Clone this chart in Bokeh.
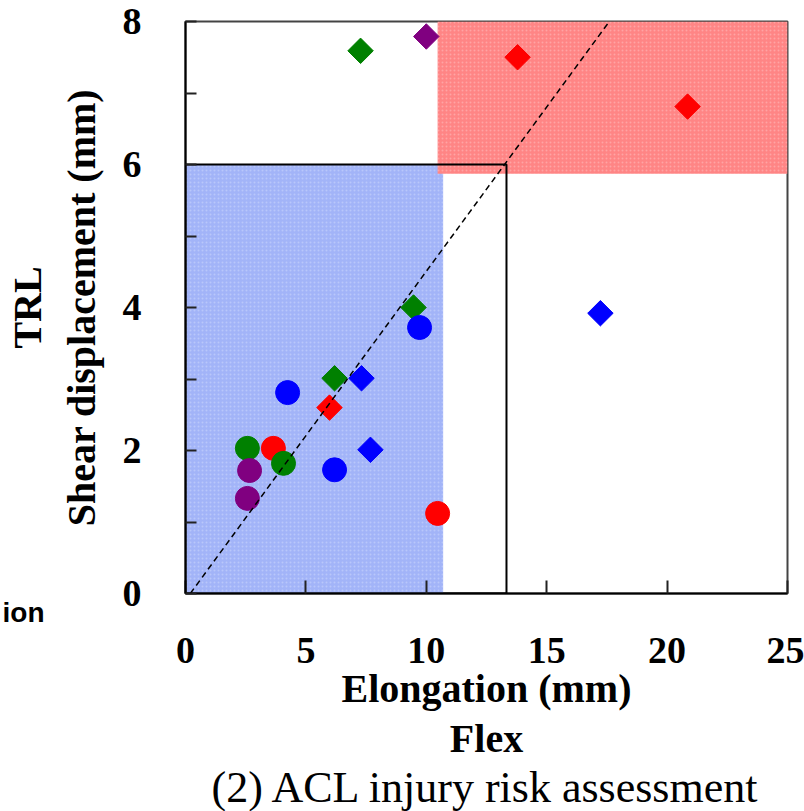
import math
from bokeh.plotting import figure
from bokeh.models import FixedTicker, Title, Range1d
from bokeh.embed import file_html
from bokeh.resources import INLINE

# ---- data ----
blue_circle_x = [4.24, 9.72, 6.19]
blue_circle_y = [2.81, 3.72, 1.73]
red_circle_x = [3.65, 10.47]
red_circle_y = [2.03, 1.12]
green_circle_x = [2.57, 4.07]
green_circle_y = [2.03, 1.82]
purple_circle_x = [2.66, 2.57]
purple_circle_y = [1.72, 1.33]

blue_diamond_x = [17.23, 7.31, 7.68]
blue_diamond_y = [3.92, 3.01, 2.01]
red_diamond_x = [13.79, 20.85, 5.98]
red_diamond_y = [7.50, 6.81, 2.60]
green_diamond_x = [7.27, 9.47, 6.19]
green_diamond_y = [7.59, 4.00, 3.01]
purple_diamond_x = [10.0]
purple_diamond_y = [7.79]

# shaded zones / reference shapes
low_zone_x = [0.0, 10.7]
low_zone_y = [0.0, 6.0]
high_zone_x = [10.47, 25.0]
high_zone_y = [5.87, 8.0]
box_x = [0.0, 13.33]
box_y = [0.0, 6.0]
ref_line_x = [0.2, 17.6]
ref_line_y = [0.0, 8.0]

x_ticks = [0, 5, 10, 15, 20, 25]
y_ticks = [0, 1, 2, 3, 4, 5, 6, 7, 8]
y_tick_labels = ["0", "", "2", "", "4", "", "6", "", "8"]

SERIF = "Liberation Serif"

p = figure(width=804, height=811, output_backend="svg", toolbar_location=None,
           x_range=Range1d(0, 25), y_range=Range1d(0, 8),
           min_border_left=185, min_border_right=17, min_border_top=21,
           min_border_bottom=218)
p.grid.visible = False
p.outline_line_color = "#444444"
p.outline_line_width = 2
p.background_fill_color = "white"
p.border_fill_color = "white"

# zones
p.quad(left=[low_zone_x[0]], right=[low_zone_x[1]], bottom=[low_zone_y[0]], top=[low_zone_y[1]],
       fill_color="#a2b4f8", line_color=None,
       hatch_pattern="dot", hatch_color="white", hatch_alpha=0.25, hatch_scale=4)
p.quad(left=[high_zone_x[0]], right=[high_zone_x[1]], bottom=[high_zone_y[0]], top=[high_zone_y[1]],
       fill_color="#ff8585", line_color=None,
       hatch_pattern="dot", hatch_color="white", hatch_alpha=0.25, hatch_scale=4)
p.quad(left=[box_x[0]], right=[box_x[1]], bottom=[box_y[0]], top=[box_y[1]],
       fill_color=None, line_color="black", line_width=2)

# markers
DS = 18
p.scatter(green_diamond_x, green_diamond_y, marker="square", angle=math.pi / 4, size=DS, color="#008000")
p.scatter(purple_diamond_x, purple_diamond_y, marker="square", angle=math.pi / 4, size=DS, color="#800080")
p.scatter(red_diamond_x, red_diamond_y, marker="square", angle=math.pi / 4, size=DS, color="#ff0000")
p.scatter(blue_diamond_x, blue_diamond_y, marker="square", angle=math.pi / 4, size=DS, color="#0000ff")
CS = 24
p.scatter(blue_circle_x, blue_circle_y, marker="circle", size=CS, color="#0000ff")
p.scatter(red_circle_x, red_circle_y, marker="circle", size=CS, color="#ff0000")
p.scatter(green_circle_x, green_circle_y, marker="circle", size=CS, color="#008000")
p.scatter(purple_circle_x, purple_circle_y, marker="circle", size=CS, color="#800080")

# dashed reference line
p.line(ref_line_x, ref_line_y, line_color="black", line_width=1.5, line_dash="6 4")

# axes
for ax in (p.xaxis[0], p.yaxis[0]):
    ax.axis_line_color = "black"
    ax.axis_line_width = 2
    ax.major_tick_line_color = "#222222"
    ax.major_tick_line_width = 2
    ax.major_tick_out = 0
    ax.minor_tick_line_color = None
    ax.major_label_text_font = SERIF
    ax.major_label_text_font_style = "bold"
    ax.major_label_text_font_size = "38px"
    ax.major_label_text_color = "black"
    ax.axis_label_text_font = SERIF
    ax.axis_label_text_font_style = "bold"
    ax.axis_label_text_font_size = "40px"
    ax.axis_label_text_color = "black"

p.xaxis.ticker = FixedTicker(ticks=x_ticks)
p.xaxis.major_tick_in = 13
p.xaxis.major_label_standoff = 44
p.xaxis.axis_label = "Elongation (mm)"
p.xaxis.axis_label_standoff = 0

p.yaxis.ticker = FixedTicker(ticks=y_ticks)
p.yaxis.major_label_overrides = {t: l for t, l in zip(y_ticks, y_tick_labels)}
p.yaxis.major_tick_in = 11
p.yaxis.major_label_standoff = 44
p.yaxis.axis_label = "Shear displacement (mm)"
p.yaxis.axis_label_standoff = 16

p.add_layout(Title(text="TRL", align="center", vertical_align="top", text_font=SERIF,
                   text_font_style="bold", text_font_size="40px", text_color="black",
                   standoff=7), "left")
p.add_layout(Title(text="Flex", align="center", text_font=SERIF, text_font_style="bold",
                   text_font_size="40px", text_color="black", standoff=0), "below")
p.add_layout(Title(text="(2) ACL injury risk assessment", align="center", text_font=SERIF,
                   text_font_style="normal", text_font_size="44px", text_color="black",
                   standoff=0), "below")

# fragment of a neighbouring caption at the lower left ("...ion"), zero-height side element
frag = Title(text=" \nion", align="left", vertical_align="bottom", offset=-183,
             text_font="Liberation Sans", text_font_style="bold", text_font_size="28px",
             text_color="black", standoff=-68)
p.below = [frag] + list(p.below)

open("out.html", "w").write(file_html(p, INLINE))
